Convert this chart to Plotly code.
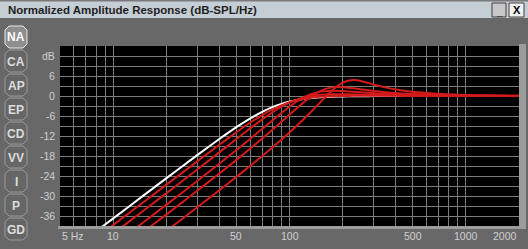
import math
import plotly.graph_objects as go

# ---------------- data ----------------
freq_hz = [5, 8, 12, 20, 30, 40, 50, 60, 70, 80, 90, 100, 115, 130, 150, 175,
           200, 230, 260, 300, 350, 400, 500, 650, 850, 1100, 1500, 2000]

white_db = [-48.8, -40.6, -33.6, -24.7, -17.75, -12.91, -9.34, -6.69, -4.74, -3.34,
            -2.36, -1.69, -1.04, -0.67, -0.39, -0.21, -0.12, -0.07, -0.05, -0.03,
            -0.02, -0.01, 0, 0, 0, 0, 0, 0]
red1_db = [-50.8, -42.6, -35.56, -26.66, -19.60, -14.63, -10.86, -7.95, -5.71, -4.03,
           -2.80, -1.92, -1.08, -0.60, -0.26, -0.07, 0.0, 0.04, 0.05, 0.05,
           0.05, 0.04, 0.03, 0.02, 0.01, 0.01, 0, 0]
red2_db = [-53.4, -45.2, -38.13, -29.20, -22.05, -16.92, -12.92, -9.68, -7.03, -4.89,
           -3.21, -1.96, -0.72, -0.03, 0.38, 0.52, 0.52, 0.46, 0.40, 0.32,
           0.25, 0.20, 0.13, 0.08, 0.05, 0.03, 0.01, 0.0]
red3_db = [-56.9, -48.7, -41.62, -32.67, -25.49, -20.31, -16.22, -12.80, -9.87, -7.32,
           -5.10, -3.23, -1.05, 0.37, 1.31, 1.60, 1.51, 1.29, 1.08, 0.85,
           0.64, 0.50, 0.33, 0.19, 0.12, 0.07, 0.04, 0.02]
red4_db = [-59.8, -51.6, -44.52, -35.59, -28.42, -23.26, -19.17, -15.74, -12.77, -10.12,
           -7.74, -5.58, -2.75, -0.47, 1.56, 2.59, 2.65, 2.32, 1.94, 1.52,
           1.14, 0.88, 0.57, 0.34, 0.20, 0.12, 0.06, 0.04]
red5_db = [-64.7, -56.5, -49.45, -40.53, -33.40, -28.29, -24.26, -20.91, -18.01, -15.43,
           -13.09, -10.92, -7.93, -5.17, -1.81, 1.72, 4.00, 4.77, 4.36, 3.47,
           2.59, 1.98, 1.25, 0.73, 0.42, 0.25, 0.14, 0.08]
red_series = [red1_db, red2_db, red3_db, red4_db, red5_db]

x_tick_vals = [5, 10, 50, 100, 500, 1000, 2000]
x_tick_text = ["5 Hz", "10", "50", "100", "500", "1000", "2000"]
x_grid_vals = [5, 6, 7, 8, 9, 10, 20, 30, 40, 50, 60, 70, 80, 90, 100,
               200, 300, 400, 500, 600, 700, 800, 900, 1000, 2000]
y_tick_vals = [12, 6, 0, -6, -12, -18, -24, -30, -36]
y_tick_text = ["dB", "6", "0", "-6", "-12", "-18", "-24", "-30", "-36"]
y_grid_vals = list(range(-39, 16, 3))
tab_labels = ["NA", "CA", "AP", "EP", "CD", "VV", "I", "P", "GD"]
title_text = "Normalized Amplitude Response (dB-SPL/Hz)"

# ---------------- layout geometry (pixels) ----------------
W, H = 528, 249
L, R, T, B = 60, 519, 46, 226
PW, PH = R - L, B - T


def px(x):
    return (x - L) / PW


def py(y):
    return (B - y) / PH


FONT = "Liberation Sans, Arial, sans-serif"
LABEL_COL = "#cfcfcf"

fig = go.Figure()
fig.add_trace(go.Scatter(x=freq_hz, y=white_db, mode="lines",
                         line=dict(color="#ffffff", width=2, shape="spline", smoothing=0.6),
                         hoverinfo="skip", showlegend=False))
for s in red_series:
    fig.add_trace(go.Scatter(x=freq_hz, y=s, mode="lines",
                             line=dict(color="#d41a1a", width=2, shape="spline", smoothing=0.6),
                             hoverinfo="skip", showlegend=False))

shapes = []
# title bar
shapes.append(dict(type="rect", xref="paper", yref="paper", x0=px(0), x1=px(W),
                   y0=py(18), y1=py(0), fillcolor="#c5cdd5", line=dict(width=0), layer="below"))
shapes.append(dict(type="rect", xref="paper", yref="paper", x0=px(0), x1=px(W),
                   y0=py(1.5), y1=py(0), fillcolor="#7a7a7a", line=dict(width=0), layer="below"))
# window buttons
shapes.append(dict(type="rect", xref="paper", yref="paper", x0=px(492), x1=px(506),
                   y0=py(17), y1=py(3), fillcolor="#c8c8c8",
                   line=dict(color="#404040", width=1)))
shapes.append(dict(type="rect", xref="paper", yref="paper", x0=px(509), x1=px(524),
                   y0=py(17), y1=py(3), fillcolor="#f0f0f0",
                   line=dict(color="#404040", width=1)))
# plot frame bevel (right and bottom)
shapes.append(dict(type="rect", xref="paper", yref="paper", x0=px(519), x1=px(526),
                   y0=py(229), y1=py(44), fillcolor="#9c9c9c", line=dict(width=0)))
shapes.append(dict(type="rect", xref="paper", yref="paper", x0=px(58), x1=px(526),
                   y0=py(229), y1=py(226), fillcolor="#9c9c9c", line=dict(width=0)))


def rounded_rect(x0, y0, x1, y1, r):
    pts = [
        (x0 + r, y0), (x1 - r, y0), (x1, y0 + r), (x1, y1 - r),
        (x1 - r, y1), (x0 + r, y1), (x0, y1 - r), (x0, y0 + r)]
    d = "M " + " L ".join(f"{px(a):.5f},{py(b):.5f}" for a, b in pts) + " Z"
    return d


annotations = []
for i, lab in enumerate(tab_labels):
    cy = 37 + 24 * i
    sel = (i == 0)
    shapes.append(dict(type="path", xref="paper", yref="paper",
                       path=rounded_rect(5, cy - 11, 27, cy + 11, 4),
                       fillcolor="#8e8e8e" if sel else "#666666",
                       line=dict(color="#e6e6e6" if sel else "#9a9a9a", width=1)))
    annotations.append(dict(xref="paper", yref="paper", x=px(16), y=py(cy + 0.5),
                            text=f"<b>{lab}</b>", showarrow=False,
                            font=dict(family=FONT, size=12,
                                      color="#ffffff" if sel else "#dcdcdc"),
                            xanchor="center", yanchor="middle"))

annotations.append(dict(xref="paper", yref="paper", x=px(6), y=py(10),
                        text=f"<b>{title_text}</b>", showarrow=False,
                        font=dict(family=FONT, size=11.5, color="#1e1e1e"),
                        xanchor="left", yanchor="middle"))
annotations.append(dict(xref="paper", yref="paper", x=px(499), y=py(11),
                        text="<b>_</b>", showarrow=False,
                        font=dict(family=FONT, size=10, color="#000000"),
                        xanchor="center", yanchor="middle"))
annotations.append(dict(xref="paper", yref="paper", x=px(516.5), y=py(10),
                        text="<b>X</b>", showarrow=False,
                        font=dict(family=FONT, size=11, color="#000000"),
                        xanchor="center", yanchor="middle"))

for v, t in zip(x_tick_vals, x_tick_text):
    anchor = "center"
    xx = math.log10(v)
    if v == x_tick_vals[0]:
        anchor = "left"
    elif v == x_tick_vals[-1]:
        anchor = "right"
    annotations.append(dict(xref="x", yref="paper", x=xx, y=py(236),
                            text=t, showarrow=False,
                            font=dict(family=FONT, size=10.5, color=LABEL_COL),
                            xanchor=anchor, yanchor="middle"))
for v, t in zip(y_tick_vals, y_tick_text):
    annotations.append(dict(xref="paper", yref="y", x=px(57), y=v,
                            text=t, showarrow=False,
                            font=dict(family=FONT, size=10.5, color=LABEL_COL),
                            xanchor="right", yanchor="middle"))

fig.update_layout(
    width=W, height=H,
    margin=dict(l=L, r=W - R, t=T, b=H - B, pad=0),
    paper_bgcolor="#686868",
    plot_bgcolor="#000000",
    showlegend=False,
    shapes=shapes,
    annotations=annotations,
)
fig.update_xaxes(type="log", range=[math.log10(5), math.log10(2000)],
                 tickvals=x_grid_vals, showticklabels=False, ticks="",
                 showgrid=True, gridcolor="#7c7c7c", gridwidth=1,
                 zeroline=False, showline=False, fixedrange=True)
fig.update_yaxes(range=[-39, 15], tickvals=y_grid_vals, showticklabels=False, ticks="",
                 showgrid=True, gridcolor="#7c7c7c", gridwidth=1,
                 zeroline=False, showline=False, fixedrange=True)

fig.write_html("out.html", config={"displayModeBar": False})
